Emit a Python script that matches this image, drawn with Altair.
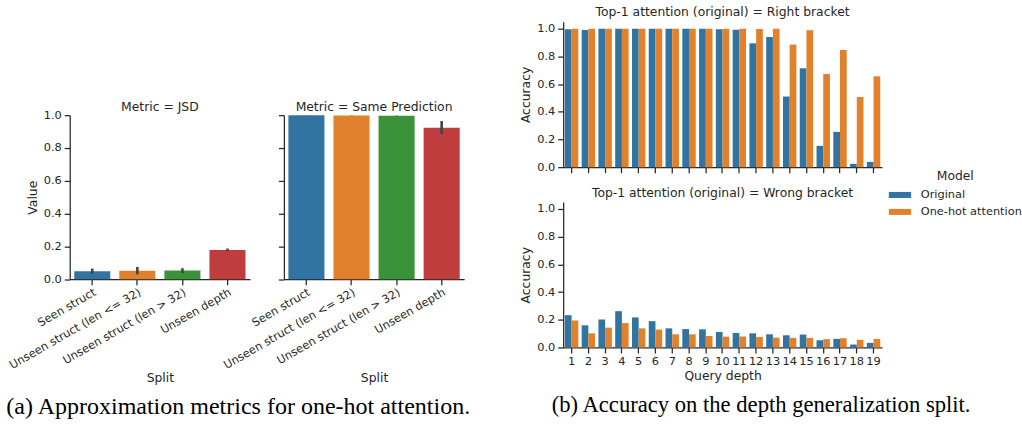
import altair as alt
import pandas as pd

# ---------- panel (a): approximation metrics for one-hot attention ----------
splits = ["Seen struct", "Unseen struct (len <= 32)", "Unseen struct (len > 32)", "Unseen depth"]
split_colors = ["#3274a1", "#e1812c", "#3a923a", "#c03d3e"]

jsd_mean = [0.049, 0.051, 0.053, 0.178]
jsd_low = [0.034, 0.030, 0.037, 0.172]
jsd_high = [0.065, 0.075, 0.067, 0.187]

same_mean = [1.000, 0.998, 0.996, 0.923]
same_low = [0.999, 0.997, 0.995, 0.885]
same_high = [1.000, 0.999, 0.997, 0.964]

# ---------- panel (b): accuracy on the depth generalization split ----------
depths = list(range(1, 20))
models = ["Original", "One-hot attention"]
model_colors = ["#3274a1", "#e1812c"]

right_original = [0.995, 0.990, 1.000, 1.000, 1.000, 1.000, 1.000, 1.000, 1.000, 0.995,
                  0.993, 0.894, 0.940, 0.510, 0.714, 0.154, 0.255, 0.024, 0.038]
right_onehot = [1.000, 1.000, 1.000, 1.000, 1.000, 1.000, 1.000, 1.000, 1.000, 1.000,
                1.000, 0.998, 1.000, 0.885, 0.988, 0.673, 0.846, 0.507, 0.656]
wrong_original = [0.233, 0.160, 0.202, 0.262, 0.217, 0.190, 0.138, 0.133, 0.131, 0.112,
                  0.105, 0.102, 0.095, 0.088, 0.093, 0.052, 0.062, 0.021, 0.033]
wrong_onehot = [0.195, 0.102, 0.143, 0.176, 0.138, 0.129, 0.095, 0.095, 0.083, 0.078,
                0.079, 0.076, 0.071, 0.069, 0.069, 0.060, 0.067, 0.055, 0.062]

TEXT = "#262626"
SANS = "DejaVu Sans"
SERIF = "Liberation Serif"
TICKS = [0.0, 0.2, 0.4, 0.6, 0.8, 1.0]


def panel_title(text, offset):
    return alt.TitleParams(text, anchor="middle", frame="group", font=SANS, fontSize=12.4,
                           fontWeight="normal", color=TEXT, offset=offset)


def metric_panel(mean, low, high, title, show_y_labels, title_offset):
    df = pd.DataFrame({"Split": splits, "Value": mean, "low": low, "high": high,
                       "colour": split_colors})
    x = alt.X("Split:N", sort=splits,
              scale=alt.Scale(paddingInner=0.2, paddingOuter=0.1),
              axis=alt.Axis(labelAngle=-30, labelAlign="right", labelBaseline="top",
                            labelPadding=1.5, title="Split", titlePadding=1))
    if show_y_labels:
        y_axis = alt.Axis(values=TICKS, format=".1f", title="Value", titlePadding=4,
                          labelOverlap=False)
    else:
        y_axis = alt.Axis(values=TICKS, labels=False, title=None)
    y_scale = alt.Scale(domain=[0, 1], nice=False)
    bars = alt.Chart(df).mark_bar().encode(
        x=x, y=alt.Y("Value:Q", scale=y_scale, axis=y_axis),
        color=alt.Color("colour:N", scale=None))
    err = alt.Chart(df).mark_rule(color="#424242", strokeWidth=2.6).encode(
        x=alt.X("Split:N", sort=splits),
        y=alt.Y("low:Q", scale=y_scale, axis=y_axis), y2="high:Q")
    return alt.layer(bars, err).properties(width=181, height=164.7,
                                           title=panel_title(title, title_offset))


def depth_panel(original, onehot, title, bottom):
    df = pd.DataFrame({
        "Query depth": depths + depths,
        "Accuracy": original + onehot,
        "Model": [models[0]] * len(depths) + [models[1]] * len(depths),
    })
    if bottom:
        x_axis = alt.Axis(labelAngle=0, title="Query depth", titlePadding=2)
    else:
        x_axis = alt.Axis(labels=False, title=None)
    legend = alt.Legend(
        title="Model", orient="none", legendX=822, legendY=149,
        symbolType="M-1,-0.27L1,-0.27L1,0.27L-1,0.27Z", symbolSize=502,
        symbolStrokeWidth=0, symbolOpacity=1, labelOffset=9.3, rowPadding=-5.7,
        labelFont=SANS, labelFontSize=11.4, labelColor=TEXT,
        titleFont=SANS, titleFontSize=12.4, titleFontWeight="normal", titleColor=TEXT,
        titleAnchor="middle", titlePadding=1)
    return alt.Chart(df).mark_bar().encode(
        x=alt.X("Query depth:O", scale=alt.Scale(paddingInner=0.2, paddingOuter=0.1), axis=x_axis),
        xOffset=alt.XOffset("Model:N", sort=models, scale=alt.Scale(paddingInner=0, paddingOuter=0)),
        y=alt.Y("Accuracy:Q", scale=alt.Scale(domain=[0, 1.05], nice=False),
                axis=alt.Axis(values=TICKS, format=".1f", title="Accuracy", titlePadding=4)),
        color=alt.Color("Model:N", sort=models,
                        scale=alt.Scale(domain=models, range=model_colors), legend=legend),
    ).properties(width=320, height=146, title=panel_title(title, 3))


def caption(text, size, offset, dx):
    return alt.TitleParams(text, orient="bottom", anchor="middle", font=SERIF, fontSize=size,
                           fontWeight="normal", color="black", offset=offset, dx=dx)


spacer = alt.Chart(pd.DataFrame({"v": [0]})).mark_rule(opacity=0).encode(
    x=alt.value(0), y=alt.value(0), y2=alt.value(73.5)).properties(width=10, height=73.5)

metrics = alt.hconcat(
    metric_panel(jsd_mean, jsd_low, jsd_high, "Metric = JSD", True, -4.4),
    metric_panel(same_mean, same_low, same_high, "Metric = Same Prediction", False, 0.6),
    spacing=34, bounds="flush")

panel_a = alt.vconcat(
    spacer, metrics, spacing=4.8,
    title=caption("(a) Approximation metrics for one-hot attention.", 24.1, 11, 2.5))

panel_b = alt.vconcat(
    depth_panel(right_original, right_onehot, "Top-1 attention (original) = Right bracket", False),
    depth_panel(wrong_original, wrong_onehot, "Top-1 attention (original) = Wrong bracket", True),
    spacing=35, bounds="flush",
    title=caption("(b) Accuracy on the depth generalization split.", 22.7, 12.5, 60.5))

chart = alt.hconcat(panel_a, panel_b, spacing=48.4).properties(
    padding={"left": 5, "top": 5, "right": 0, "bottom": 0}
).configure_view(stroke=None).configure_axis(
    domainColor=TEXT, domainWidth=1.25, tickColor=TEXT, tickWidth=1.25, tickSize=5.5,
    labelFont=SANS, labelFontSize=11.4, labelColor=TEXT, labelPadding=3,
    titleFont=SANS, titleFontSize=12.4, titleFontWeight="normal", titleColor=TEXT,
    grid=False,
).configure_axisY(titleAngle=-90)

chart.save("out.html", embed_options={"renderer": "svg", "actions": False})
